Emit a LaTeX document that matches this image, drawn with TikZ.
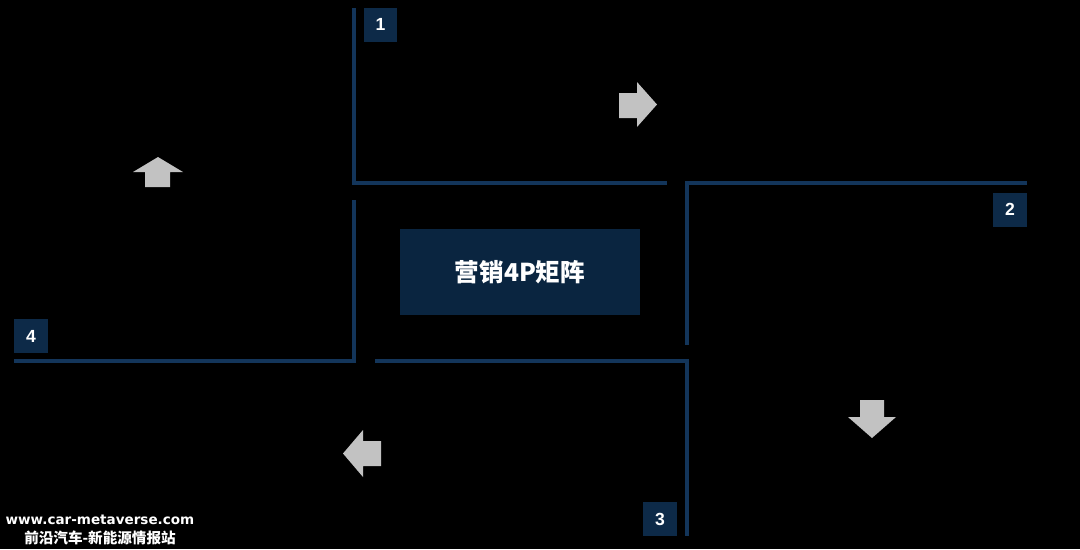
\documentclass[tikz,border=0pt]{standalone}
\usepackage{fontspec}
\newfontfamily\cjk{Noto Sans CJK SC}
\newfontfamily\numfont{Liberation Sans}
\newfontfamily\webfont{DejaVu Sans}
\usetikzlibrary{calc}

\definecolor{railblue}{HTML}{13355A}
\definecolor{badgeblue}{HTML}{0D2A48}
\definecolor{coreblue}{HTML}{0A2540}
\definecolor{arrowgray}{HTML}{C2C2C2}

\begin{document}
\begin{tikzpicture}
        [x=0.02cm,y=-0.02cm,
        every node/.style={inner sep=0pt,text=white},
        rail/.style={draw=railblue,line width=1.8pt},
        badge/.style={fill=badgeblue,minimum size=0.68cm,font=\numfont\bfseries\fontsize{10}{12}\selectfont},
        pointer/.style={fill=arrowgray}]
        \fill[black] (0,0) rectangle (1080,549);
        \useasboundingbox (0,0) rectangle (1080,549);
        %% frame lines
        \draw[rail] (354,8) |- (667,183);
        \draw[rail] (1027,183) -| (687,345);
        \draw[rail] (375,361) -| (687,536);
        \draw[rail] (354,200) |- (14,361);
        %% centre
        \node[fill=coreblue,minimum width=4.8cm,minimum height=1.72cm,
          font=\cjk\bfseries\fontsize{14}{16}\selectfont] (core) at (520,272) {营销4P矩阵};
        %% badges
        \foreach \name/\pos/\num in {b1/{380.5,24.5}/1,b2/{1010,209.5}/2,b3/{660,519}/3,b4/{31,336}/4}
        {
          \node[badge] (\name) at (\pos) {\num};
        }
        %% arrows
        \fill[pointer] (619,93) -- (637,93) -- (637,82) -- (657,104.5) -- (637,127) -- (637,118) -- (619,118) -- cycle;
        \fill[pointer] (860,400) -- (884,400) -- (884,417) -- (896,417) -- (872,438) -- (848,417) -- (860,417) -- cycle;
        \fill[pointer] (381,441) -- (363,441) -- (363,430) -- (343,453.5) -- (363,477) -- (363,466) -- (381,466) -- cycle;
        \fill[pointer] (145,187) -- (145,172) -- (133,172) -- (158,157) -- (183,172) -- (170,172) -- (170,187) -- cycle;
        %% watermark
        \node[font=\webfont\bfseries\fontsize{7.7}{9}\selectfont] (site) at (100,519.5) {www.car-metaverse.com};
        \node[font=\cjk\bfseries\fontsize{8.3}{9}\selectfont] (tag) at (100,538) {前沿汽车-新能源情报站};
\end{tikzpicture}
\end{document}
